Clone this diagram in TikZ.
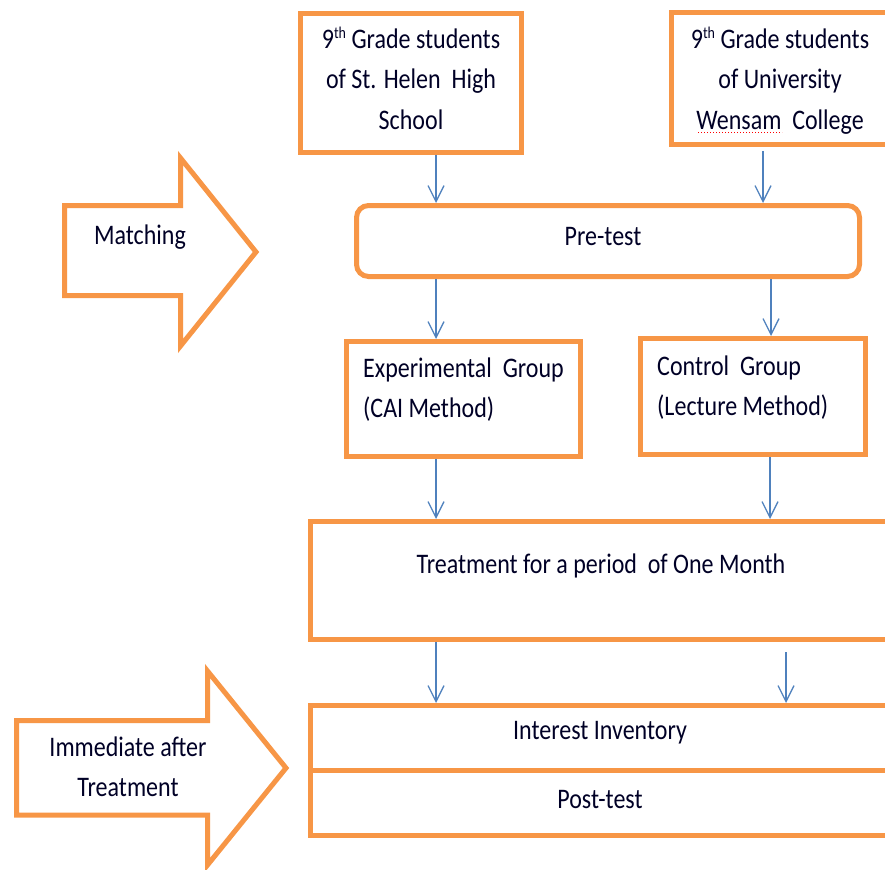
\documentclass[tikz,border=0pt]{standalone}
\usepackage{fontspec}
\setmainfont{Carlito}
\usepackage{graphicx}
\usetikzlibrary{arrows.meta}
\definecolor{orng}{HTML}{F79646}
\definecolor{blu}{HTML}{4F81BD}
\newcommand\tl[2][c]{\scalebox{1}[1.18]{\begin{tabular}{@{}#1@{}}#2\end{tabular}}}
\newcommand\supth{\raisebox{0.75ex}{\fontsize{14}{14}\selectfont th}}
\begin{document}
\begin{tikzpicture}[x=1pt,y=-1pt,
 box/.style={draw=orng, line width=5pt, fill=white, inner sep=0pt},
 txt/.style={inner sep=0pt, font=\fontsize{24}{33.9}\selectfont, text=black!85!blue},
 arr/.style={draw=blu, line width=1.3pt, -{Straight Barb[length=16pt,width=16pt]}},
 blockarrow/.style={draw=orng, line width=5pt, line join=miter, fill=white}]
\useasboundingbox (0,0) rectangle (885,869);
\clip (0,0) rectangle (885,869);

% boxes
\node[box, minimum width=221pt, minimum height=139pt] (A) at (411,83) {};
\node[box, minimum width=223.5pt, minimum height=132pt] (B) at (783.25,78.5) {};
\node[box, rounded corners=12pt, minimum width=503pt, minimum height=71pt] (pre) at (608,241) {};
\node[box, minimum width=234pt, minimum height=115pt] (exp) at (463.5,399) {};
\node[box, minimum width=225pt, minimum height=116pt] (ctrl) at (753,396.5) {};
\node[box, minimum width=584.5pt, minimum height=118pt] (treat) at (602.75,580.5) {};
\node[box, minimum width=584.5pt, minimum height=64.5pt] (int) at (602.75,737.75) {};
\node[box, minimum width=584.5pt, minimum height=65.5pt] (post) at (602.75,802.75) {};

% texts
\node[txt] (Atxt) at (411,81) {\tl{9\supth\ Grade students\\of St. Helen\ \ High\\School}};
\node[txt] (Btxt) at (780,81) {\tl{9\supth\ Grade students\\of University\\Wensam\ \ College}};
\draw[red, line width=1pt, dotted] (698,133) -- (782,133);
\node[txt] (pretxt) at (603,237) {\tl{Pre-test}};
\node[txt, anchor=west] (exptxt) at (363,389) {\tl[l]{Experimental\ \ Group\\(CAI Method)}};
\node[txt, anchor=west] (ctrltxt) at (657,387) {\tl[l]{Control\ \ Group\\(Lecture Method)}};
\node[txt] (treattxt) at (601,565) {\tl{Treatment for a period\ \ of One Month}};
\node[txt] (inttxt) at (600,731) {\tl{Interest Inventory}};
\node[txt] (posttxt) at (600,800) {\tl{Post-test}};

% connectors
\draw[arr] (A.south -| 436,0) -- (pre.north -| 436,0);
\draw[arr, shorten <=4pt] (B.south -| 763,0) -- (pre.north -| 763,0);
\draw[arr] (pre.south -| 436,0) -- (exp.north -| 436,0);
\draw[arr] (pre.south -| 771,0) -- (ctrl.north -| 771,0);
\draw[arr] (exp.south -| 436,0) -- (treat.north -| 436,0);
\draw[arr] (ctrl.south -| 770,0) -- (treat.north -| 770,0);
\draw[arr] (treat.south -| 436,0) -- (int.north -| 436,0);
\draw[arr, shorten <=10pt] (treat.south -| 786,0) -- (int.north -| 786,0);

% block arrows
\draw[blockarrow] (64.5,205.5) -- (180.5,205.5) -- (180.5,158) -- (256,252)
  -- (180.5,346) -- (180.5,295.5) -- (64.5,295.5) -- cycle;
\node[txt] (match) at (140,236) {\tl{Matching}};
\draw[blockarrow] (16.5,720.5) -- (207.5,720.5) -- (207.5,671) -- (286,768)
  -- (207.5,865) -- (207.5,815) -- (16.5,815) -- cycle;
\node[txt] (imm) at (128,768.5) {\tl{Immediate after\\Treatment}};
\end{tikzpicture}
\end{document}
